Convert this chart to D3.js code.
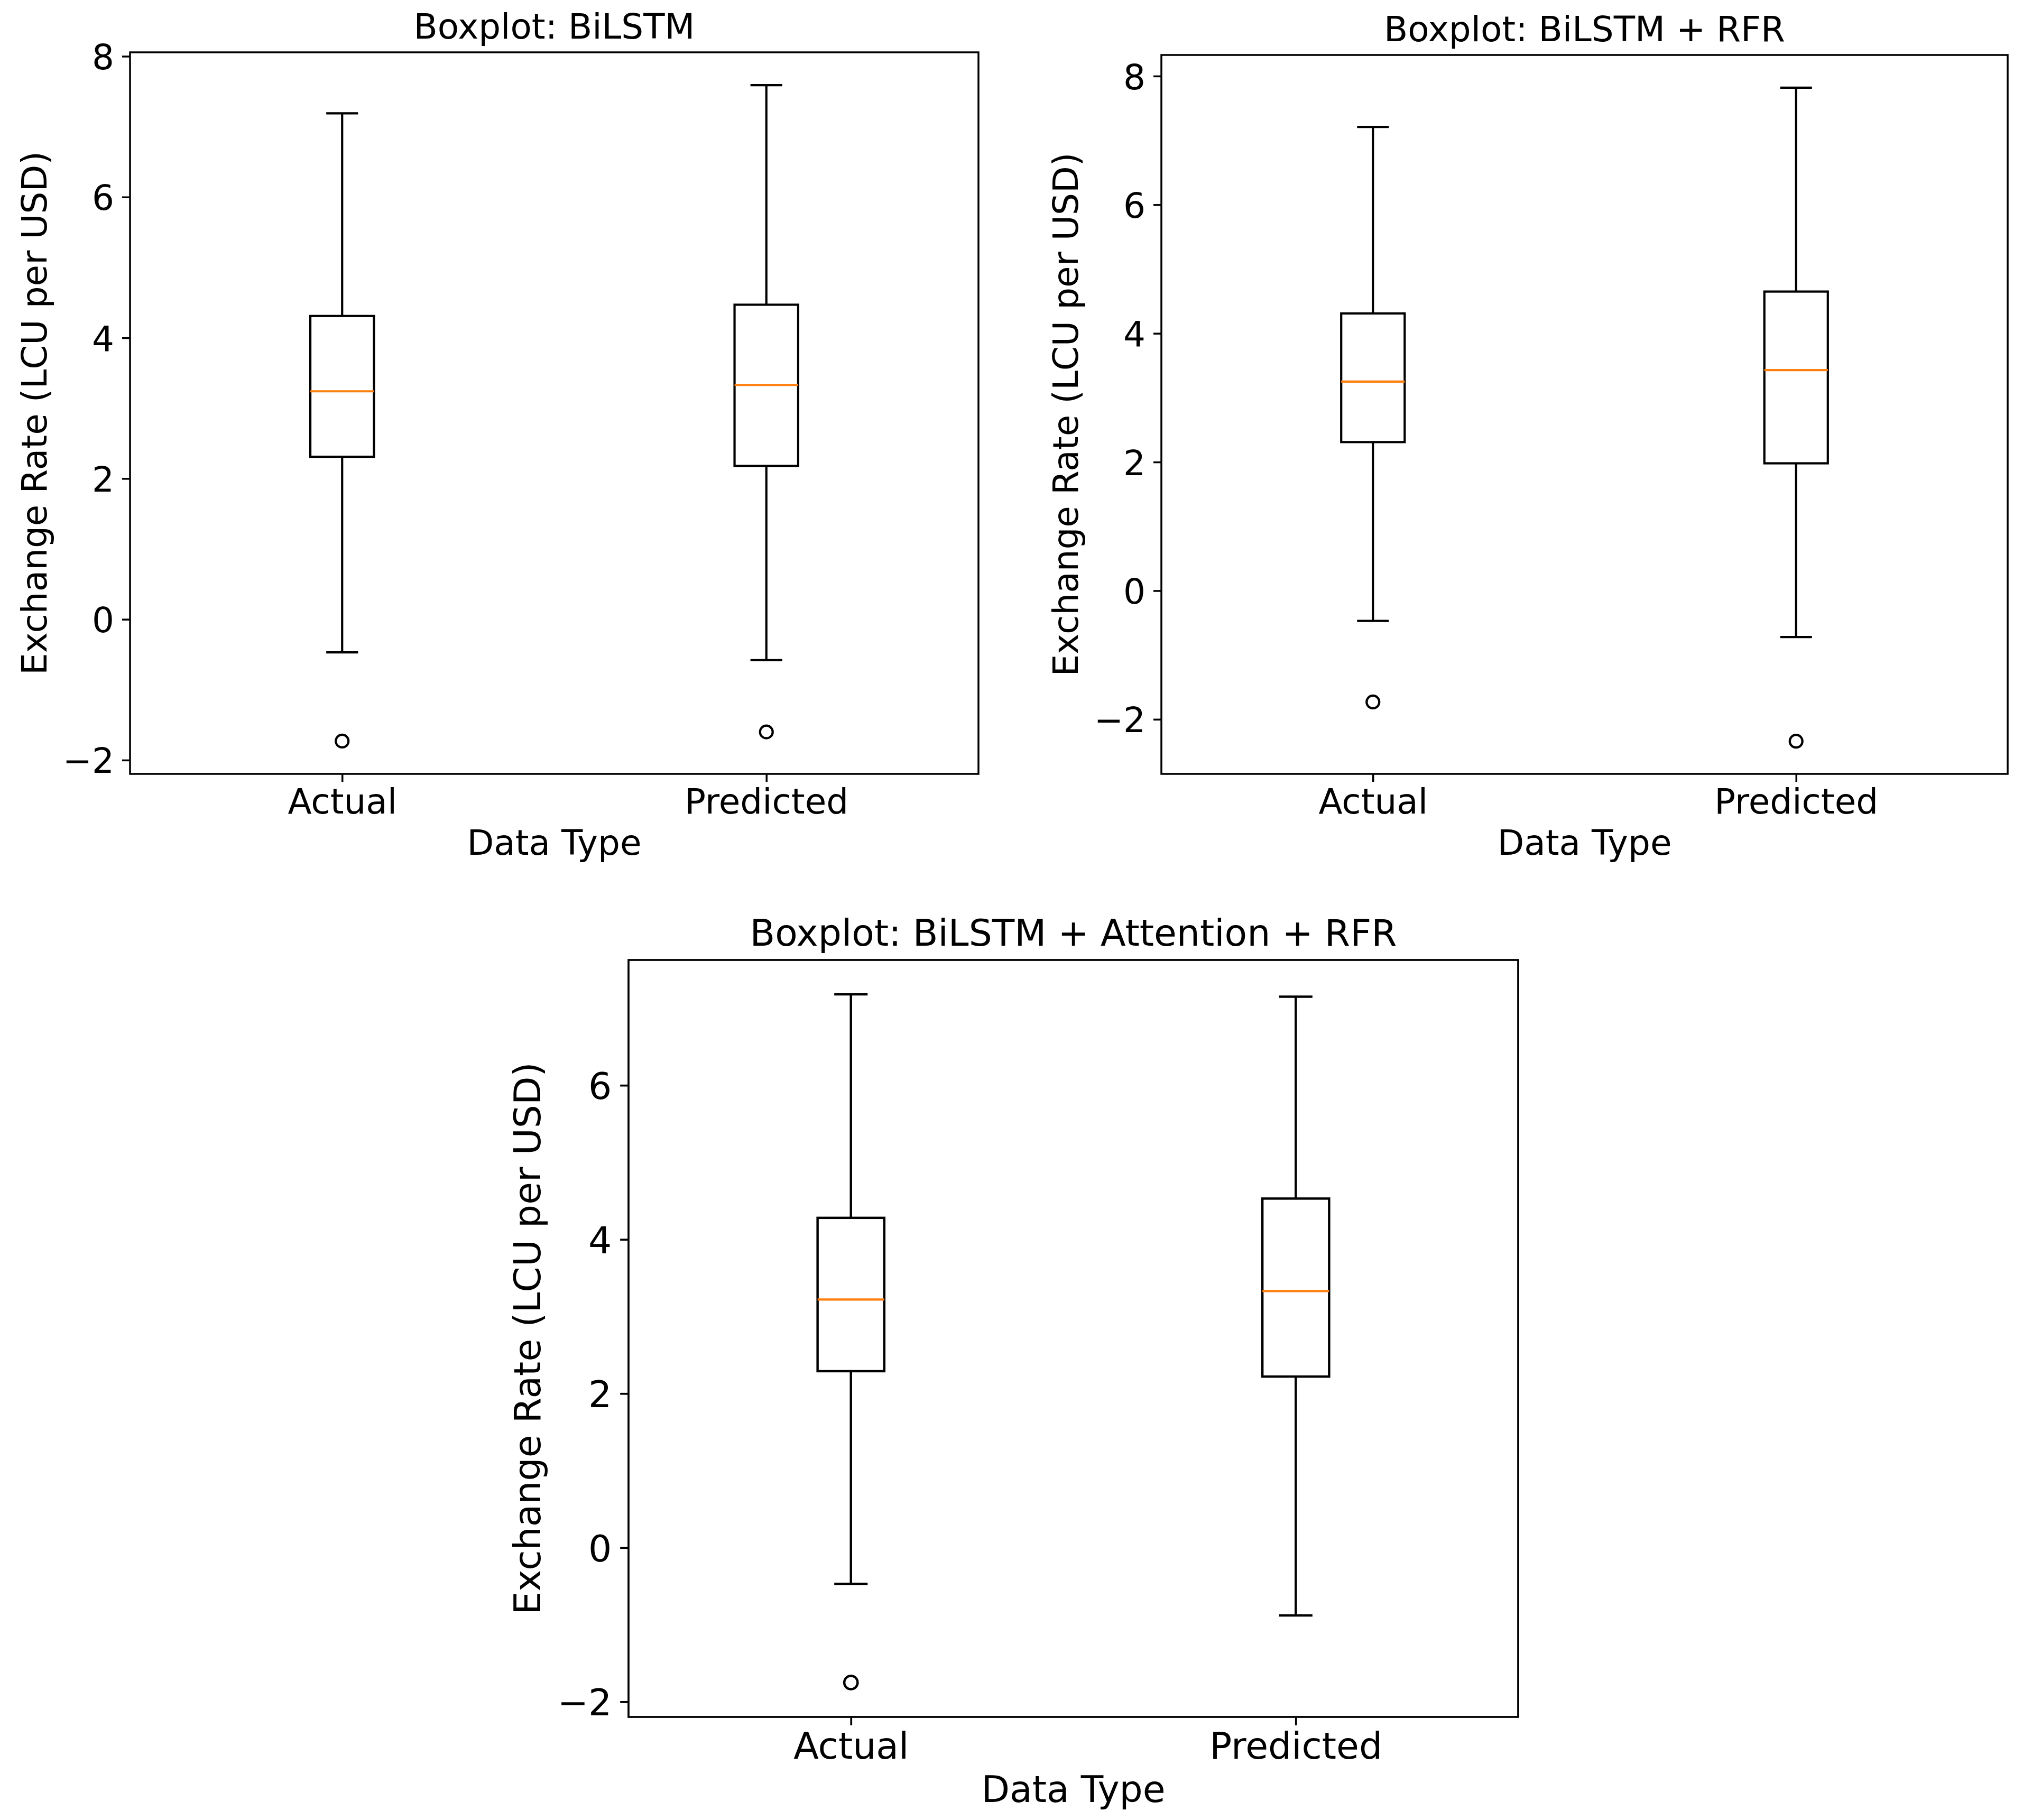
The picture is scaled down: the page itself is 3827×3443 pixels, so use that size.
<!DOCTYPE html>
<html>
<head>
<meta charset="utf-8">
<script src="https://cdn.jsdelivr.net/npm/d3@7"></script>
<style>
  body { margin: 0; background: #fff; }
  text { font-family: "DejaVu Sans", sans-serif; fill: #000; }
</style>
</head>
<body>
<div id="chart"></div>
<script>
// categories on the x axis
var categories = ["Actual", "Predicted"];

// box stats per category: [lower whisker, Q1, median, Q3, upper whisker]
var bilstmActual    = [-0.47, 2.31, 3.24, 4.31, 7.19];
var bilstmPredicted = [-0.58, 2.18, 3.33, 4.47, 7.59];
var bilstmFliers    = [[-1.73], [-1.60]];

var rfrActual    = [-0.47, 2.31, 3.25, 4.31, 7.21];
var rfrPredicted = [-0.72, 1.98, 3.43, 4.65, 7.82];
var rfrFliers    = [[-1.73], [-2.34]];

var attnActual    = [-0.47, 2.29, 3.22, 4.28, 7.18];
var attnPredicted = [-0.88, 2.22, 3.33, 4.53, 7.15];
var attnFliers    = [[-1.75], []];

// y tick labels
var yTicksTop    = [-2, 0, 2, 4, 6, 8];
var yTicksBottom = [-2, 0, 2, 4, 6];

var titles = ["Boxplot: BiLSTM", "Boxplot: BiLSTM + RFR", "Boxplot: BiLSTM + Attention + RFR"];
var yLabel = "Exchange Rate (LCU per USD)";
var xLabel = "Data Type";

var W = 3827, H = 3443;
var FS = 66;

var svg = d3.select("#chart").append("svg")
  .attr("width", W)
  .attr("height", H)
  .style("background", "#fff");

// axes rectangles in page pixels; k = size factor for text/lines (bottom plot is drawn a bit bigger)
var panels = [
  {left: 246,  right: 1851, top: 99,   bottom: 1464, k: 1,     title: titles[0], boxes: [bilstmActual, bilstmPredicted], fliers: bilstmFliers, ticks: yTicksTop},
  {left: 2197, right: 3798, top: 104,  bottom: 1464, k: 1,     title: titles[1], boxes: [rfrActual, rfrPredicted],       fliers: rfrFliers,    ticks: yTicksTop},
  {left: 1189, right: 2872, top: 1816, bottom: 3248, k: 1.055, title: titles[2], boxes: [attnActual, attnPredicted],     fliers: attnFliers,   ticks: yTicksBottom}
];

panels.forEach(drawPanel);

function drawPanel(p) {
  var w = p.right - p.left, h = p.bottom - p.top, k = p.k;
  var fs = FS * k, lw = 4.2 * k, sw = 3.5 * k, tl = 15 * k;
  var g = svg.append("g").attr("transform", "translate(" + p.left + "," + p.top + ")");

  // y domain like matplotlib autoscale: data extent + 5% margin
  var all = [];
  p.boxes.forEach(function(b) { all = all.concat(b); });
  p.fliers.forEach(function(f) { all = all.concat(f); });
  var lo = d3.min(all), hi = d3.max(all), pad = (hi - lo) * 0.05;

  var y = d3.scaleLinear().domain([lo - pad, hi + pad]).range([h, 0]);
  var x = d3.scalePoint().domain(categories).range([0, w]).padding(0.5);
  var unit = x.step();           // one category step in pixels
  var boxW = 0.15 * unit, capW = 0.075 * unit;

  // x axis
  var xa = g.append("g")
    .attr("transform", "translate(0," + h + ")")
    .call(d3.axisBottom(x).tickSize(tl).tickSizeOuter(0));
  xa.select(".domain").remove();
  xa.selectAll(".tick line").attr("stroke", "#000").attr("stroke-width", sw);
  xa.selectAll(".tick text")
    .attr("y", 75 * k).attr("dy", 0)
    .style("font-size", fs + "px").style("font-family", "DejaVu Sans");

  // y axis
  var ya = g.append("g")
    .call(d3.axisLeft(y).tickValues(p.ticks).tickSize(tl).tickSizeOuter(0));
  ya.select(".domain").remove();
  ya.selectAll(".tick line").attr("stroke", "#000").attr("stroke-width", sw);
  ya.selectAll(".tick text")
    .attr("x", -30 * k).attr("dy", "0.365em")
    .style("font-size", fs + "px").style("font-family", "DejaVu Sans");

  // boxes
  var bx = g.selectAll(".bx").data(p.boxes).enter().append("g").attr("class", "bx");

  bx.append("line") // lower whisker
    .attr("x1", function(d, i) { return x(categories[i]); })
    .attr("x2", function(d, i) { return x(categories[i]); })
    .attr("y1", function(d) { return y(d[0]); })
    .attr("y2", function(d) { return y(d[1]); });
  bx.append("line") // upper whisker
    .attr("x1", function(d, i) { return x(categories[i]); })
    .attr("x2", function(d, i) { return x(categories[i]); })
    .attr("y1", function(d) { return y(d[3]); })
    .attr("y2", function(d) { return y(d[4]); });
  bx.append("line") // lower cap
    .attr("x1", function(d, i) { return x(categories[i]) - capW / 2; })
    .attr("x2", function(d, i) { return x(categories[i]) + capW / 2; })
    .attr("y1", function(d) { return y(d[0]); })
    .attr("y2", function(d) { return y(d[0]); });
  bx.append("line") // upper cap
    .attr("x1", function(d, i) { return x(categories[i]) - capW / 2; })
    .attr("x2", function(d, i) { return x(categories[i]) + capW / 2; })
    .attr("y1", function(d) { return y(d[4]); })
    .attr("y2", function(d) { return y(d[4]); });
  bx.selectAll("line").attr("stroke", "#000").attr("stroke-width", lw);

  bx.append("rect")
    .attr("x", function(d, i) { return x(categories[i]) - boxW / 2; })
    .attr("width", boxW)
    .attr("y", function(d) { return y(d[3]); })
    .attr("height", function(d) { return y(d[1]) - y(d[3]); })
    .attr("fill", "none")
    .attr("stroke", "#000")
    .attr("stroke-width", lw);

  bx.append("line") // median
    .attr("x1", function(d, i) { return x(categories[i]) - boxW / 2; })
    .attr("x2", function(d, i) { return x(categories[i]) + boxW / 2; })
    .attr("y1", function(d) { return y(d[2]); })
    .attr("y2", function(d) { return y(d[2]); })
    .attr("stroke", "#ff7f0e")
    .attr("stroke-width", lw);

  // fliers
  p.fliers.forEach(function(f, i) {
    g.selectAll(null).data(f).enter().append("circle")
      .attr("cx", x(categories[i]))
      .attr("cy", function(d) { return y(d); })
      .attr("r", 12 * k)
      .attr("fill", "none")
      .attr("stroke", "#000")
      .attr("stroke-width", lw);
  });

  // spines
  g.append("rect")
    .attr("width", w).attr("height", h)
    .attr("fill", "none").attr("stroke", "#000").attr("stroke-width", sw);

  // title and labels
  g.append("text")
    .attr("x", w / 2).attr("y", -26 * k)
    .attr("text-anchor", "middle")
    .style("font-size", fs + "px")
    .text(p.title);

  g.append("text")
    .attr("x", w / 2).attr("y", h + 153 * k)
    .attr("text-anchor", "middle")
    .style("font-size", fs + "px")
    .text(xLabel);

  g.append("text")
    .attr("transform", "translate(" + (-158 * k) + "," + (h / 2) + ") rotate(-90)")
    .attr("text-anchor", "middle")
    .style("font-size", fs + "px")
    .text(yLabel);
}
</script>
</body>
</html>
